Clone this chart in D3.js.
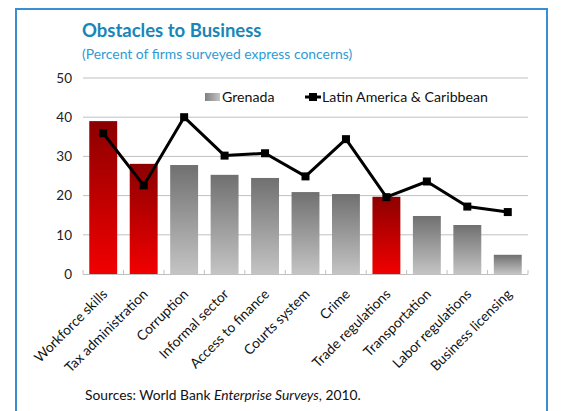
<!DOCTYPE html>
<html>
<head>
<meta charset="utf-8">
<script src="https://cdn.jsdelivr.net/npm/d3@7"></script>
<style>
  html, body { margin: 0; padding: 0; background: #fff; }
  svg { display: block; font-family: Lato, "Open Sans", sans-serif; }
</style>
</head>
<body>
<svg id="chart" width="566" height="411"></svg>
<script>
// Obstacles to business: share of firms (%) naming each obstacle
const categories = ["Workforce skills", "Tax administration", "Corruption", "Informal sector",
  "Access to finance", "Courts system", "Crime", "Trade regulations", "Transportation",
  "Labor regulations", "Business licensing"];
const grenada = [39.0, 28.1, 27.8, 25.3, 24.5, 20.9, 20.4, 19.7, 14.8, 12.5, 4.9];
const latinAmerica = [35.9, 22.6, 40.0, 30.2, 30.8, 24.9, 34.4, 19.6, 23.6, 17.2, 15.8];
// categories drawn in red
const highlighted = ["Workforce skills", "Tax administration", "Trade regulations"];
const yTicks = [0, 10, 20, 30, 40, 50];

const svg = d3.select("#chart");

const plot = { left: 83, right: 528, top: 78, bottom: 274 };

const x = d3.scaleBand().domain(categories).range([plot.left, plot.right]).paddingInner(0.31).paddingOuter(0.155);
const step = (plot.right - plot.left) / categories.length;
const y = d3.scaleLinear().domain([0, 50]).range([plot.bottom, plot.top]);

// gradients
const defs = svg.append("defs");
const red = defs.append("linearGradient").attr("id", "gRed").attr("x1", 0).attr("y1", 0).attr("x2", 0).attr("y2", 1);
red.append("stop").attr("offset", "0%").attr("stop-color", "#8c0000");
red.append("stop").attr("offset", "100%").attr("stop-color", "#f20000");
const grey = defs.append("linearGradient").attr("id", "gGrey").attr("x1", 0).attr("y1", 0).attr("x2", 0).attr("y2", 1);
grey.append("stop").attr("offset", "0%").attr("stop-color", "#707070");
grey.append("stop").attr("offset", "100%").attr("stop-color", "#c4c4c4");
const greyH = defs.append("linearGradient").attr("id", "gGreyH").attr("x1", 0).attr("y1", 0).attr("x2", 1).attr("y2", 0);
greyH.append("stop").attr("offset", "0%").attr("stop-color", "#808080");
greyH.append("stop").attr("offset", "100%").attr("stop-color", "#c4c4c4");

// frame
svg.append("rect").attr("x", 16).attr("y", 9).attr("width", 531).attr("height", 420)
  .attr("fill", "none").attr("stroke", "#3b8fd1").attr("stroke-width", 2);

// title
svg.append("text").attr("x", 82).attr("y", 37).attr("fill", "#1786b9")
  .attr("font-size", 18.5).attr("font-weight", "bold").text("Obstacles to Business");
svg.append("text").attr("x", 82).attr("y", 59).attr("fill", "#2e9bd3")
  .attr("font-size", 13.9).text("(Percent of firms surveyed express concerns)");

// gridlines
svg.append("g").selectAll("line").data(yTicks.filter(d => d > 0)).join("line")
  .attr("x1", plot.left).attr("x2", plot.right)
  .attr("y1", d => y(d)).attr("y2", d => y(d))
  .attr("stroke", "#c0c0c0").attr("stroke-width", 1);

// y axis labels
const yAxis = d3.axisLeft(y).tickValues(yTicks).tickSize(0).tickPadding(0);
svg.append("g").attr("transform", "translate(72,0)").call(yAxis)
  .call(g => g.select(".domain").remove())
  .call(g => g.selectAll("text").attr("font-size", 13.5).attr("fill", "#222").attr("font-family", "Lato, sans-serif"));

// bars
svg.append("g").selectAll("rect").data(categories).join("rect")
  .attr("x", d => x(d))
  .attr("width", x.bandwidth())
  .attr("y", (d, i) => y(grenada[i]))
  .attr("height", (d, i) => y(0) - y(grenada[i]))
  .attr("fill", d => highlighted.includes(d) ? "url(#gRed)" : "url(#gGrey)");

// x axis line and ticks at category boundaries
svg.append("line").attr("x1", plot.left).attr("x2", plot.right)
  .attr("y1", y(0) + 0.5).attr("y2", y(0) + 0.5).attr("stroke", "#c0c0c0");
svg.append("g").selectAll("line").data(d3.range(categories.length + 1)).join("line")
  .attr("x1", i => plot.left + i * step).attr("x2", i => plot.left + i * step)
  .attr("y1", y(0) - 4).attr("y2", y(0) + 0.5)
  .attr("stroke", "#c0c0c0");

// line series
const cx = d => x(d) + x.bandwidth() / 2;
const line = d3.line().x((v, i) => cx(categories[i])).y(v => y(v));
svg.append("path").datum(latinAmerica).attr("d", line)
  .attr("fill", "none").attr("stroke", "#000").attr("stroke-width", 3).attr("stroke-linejoin", "round");
svg.append("g").selectAll("rect").data(latinAmerica).join("rect")
  .attr("x", (v, i) => cx(categories[i]) - 4).attr("y", v => y(v) - 4)
  .attr("width", 8).attr("height", 8).attr("fill", "#000");

// category labels
svg.append("g").selectAll("text").data(categories).join("text")
  .attr("transform", d => `translate(${cx(d) + 5},${y(0) + 21}) rotate(-45)`)
  .attr("text-anchor", "end").attr("font-size", 13.8).attr("fill", "#111")
  .text(d => d);

// legend
const leg = svg.append("g");
leg.append("rect").attr("x", 205).attr("y", 93).attr("width", 15).attr("height", 8).attr("fill", "url(#gGreyH)");
leg.append("text").attr("x", 222).attr("y", 102).attr("font-size", 14.2).attr("fill", "#111").text("Grenada");
leg.append("line").attr("x1", 305).attr("x2", 321).attr("y1", 97).attr("y2", 97).attr("stroke", "#000").attr("stroke-width", 3);
leg.append("rect").attr("x", 309).attr("y", 93).attr("width", 8).attr("height", 8).attr("fill", "#000");
leg.append("text").attr("x", 322).attr("y", 102).attr("font-size", 14.2).attr("fill", "#111").text("Latin America & Caribbean");

// source note
const src = svg.append("text").attr("x", 85).attr("y", 400).attr("font-size", 13.8).attr("fill", "#111");
src.append("tspan").text("Sources: World Bank ");
src.append("tspan").attr("font-style", "italic").text("Enterprise Surveys");
src.append("tspan").text(", 2010.");
</script>
</body>
</html>
